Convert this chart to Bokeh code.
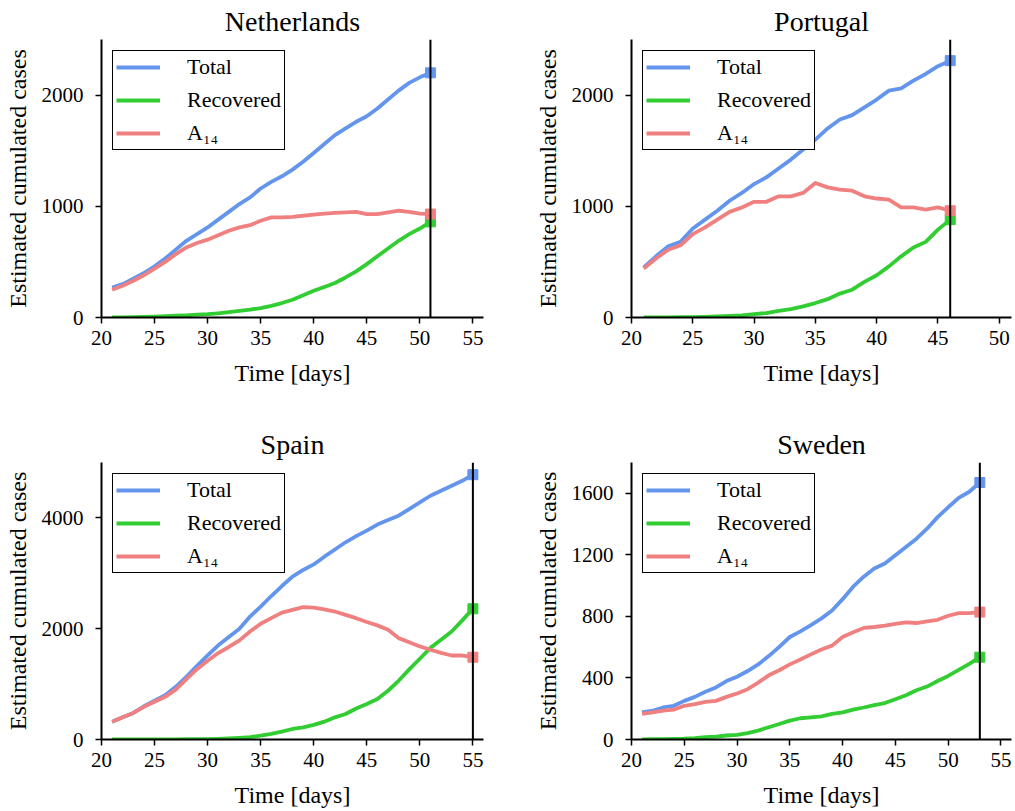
from bokeh.plotting import figure
from bokeh.models import Range1d, FixedTicker, Span, Legend, LegendItem
from bokeh.layouts import row, column
from bokeh.embed import file_html
from bokeh.resources import INLINE

FONT = "Liberation Serif"
C_TOTAL = "#6495ED"
C_REC = "#32CD32"
C_A14 = "#F08080"

# ---------------- data ----------------
nl_days = list(range(21, 52))
nl_total = [270, 300, 350, 400, 460, 530, 610, 690, 750, 810, 880, 950, 1020, 1080, 1160, 1220,
            1270, 1330, 1400, 1480, 1560, 1640, 1700, 1760, 1810, 1880, 1960, 2040, 2110, 2160, 2200]
nl_recovered = [0, 2, 4, 6, 8, 12, 16, 20, 25, 30, 38, 48, 60, 70, 85, 105, 130, 160, 200, 240,
                275, 310, 360, 415, 480, 550, 620, 690, 750, 800, 860]
nl_a14 = [250, 285, 330, 380, 440, 500, 570, 630, 670, 700, 740, 780, 810, 830, 870, 900, 900, 905,
          915, 925, 935, 940, 945, 950, 930, 930, 945, 960, 950, 935, 930]

pt_days = list(range(21, 47))
pt_total = [450, 550, 640, 680, 800, 880, 960, 1050, 1120, 1200, 1260, 1340, 1420, 1510, 1600, 1700,
            1780, 1820, 1890, 1960, 2040, 2060, 2130, 2190, 2260, 2310]
pt_recovered = [0, 1, 2, 3, 4, 6, 9, 14, 20, 30, 40, 60, 75, 100, 130, 165, 215, 250, 320, 380, 460,
                550, 630, 680, 790, 880]
pt_a14 = [440, 530, 610, 650, 750, 810, 880, 950, 990, 1040, 1040, 1090, 1090, 1120, 1210, 1170, 1150,
          1140, 1090, 1070, 1060, 990, 990, 970, 990, 960]

es_days = list(range(21, 56))
es_total = [320, 400, 480, 600, 700, 800, 950, 1130, 1330, 1520, 1700, 1850, 2000, 2220, 2400, 2590,
            2770, 2940, 3060, 3160, 3300, 3430, 3560, 3670, 3770, 3880, 3960, 4040, 4160, 4280, 4400,
            4490, 4580, 4670, 4780]
es_recovered = [0, 0, 0, 1, 2, 3, 4, 5, 6, 8, 12, 20, 30, 42, 72, 100, 143, 190, 220, 263, 322, 400,
                460, 560, 640, 730, 880, 1060, 1265, 1457, 1654, 1800, 1950, 2150, 2360]
es_a14 = [320, 400, 480, 590, 680, 770, 900, 1090, 1270, 1420, 1560, 1670, 1790, 1950, 2090, 2190,
          2290, 2340, 2390, 2380, 2350, 2310, 2250, 2190, 2120, 2060, 1980, 1830, 1755, 1680, 1620,
          1565, 1516, 1516, 1486]

se_days = list(range(21, 54))
se_total = [176, 187, 208, 219, 251, 277, 310, 338, 380, 408, 445, 488, 542, 602, 666, 703, 744, 787,
            838, 912, 993, 1058, 1111, 1144, 1198, 1251, 1305, 1370, 1445, 1509, 1570, 1610, 1670]
se_recovered = [0, 2, 3, 4, 5, 9, 15, 19, 26, 30, 41, 58, 80, 101, 123, 138, 144, 150, 166, 176, 194,
                208, 224, 237, 262, 288, 320, 344, 380, 413, 452, 492, 535]
se_a14 = [166, 176, 187, 194, 219, 230, 245, 251, 277, 299, 327, 370, 417, 450, 488, 520, 553, 585,
          610, 666, 697, 725, 731, 740, 752, 761, 757, 768, 778, 804, 821, 821, 828]

x_ticks_55 = [20, 25, 30, 35, 40, 45, 50, 55]
x_ticks_50 = [20, 25, 30, 35, 40, 45, 50]
y_ticks_2000 = [0, 1000, 2000]
y_ticks_4000 = [0, 2000, 4000]
y_ticks_1600 = [0, 400, 800, 1200, 1600]

series_labels = ["Total", "Recovered", "A\u2081\u2084"]
x_label = "Time [days]"
y_label = "Estimated cumulated cases"


def make_panel(title, days, total, recovered, a14, xr, yr, xticks, yticks,
               width, height, bl, br, bt, bb):
    p = figure(width=width, height=height, output_backend="svg", toolbar_location=None,
               x_range=Range1d(*xr), y_range=Range1d(*yr),
               min_border_left=bl, min_border_right=br, min_border_top=bt, min_border_bottom=bb)
    p.title.text = title
    p.title.text_font = FONT
    p.title.text_font_size = "28px"
    p.title.text_font_style = "normal"
    p.title.text_color = "black"
    p.title.align = "center"
    p.title.standoff = 5
    p.outline_line_color = None
    p.xgrid.visible = False
    p.ygrid.visible = False
    p.background_fill_color = "white"
    p.border_fill_color = "white"

    for ax in (p.xaxis[0], p.yaxis[0]):
        ax.axis_line_width = 2
        ax.axis_line_color = "black"
        ax.major_tick_line_color = "black"
        ax.major_tick_line_width = 1.5
        ax.major_tick_in = 0
        ax.major_tick_out = 6
        ax.minor_tick_line_color = None
        ax.major_label_text_font = FONT
        ax.major_label_text_font_size = "21px"
        ax.major_label_text_color = "black"
        ax.axis_label_text_font = FONT
        ax.axis_label_text_font_size = "24px"
        ax.axis_label_text_font_style = "normal"
        ax.axis_label_text_color = "black"
    p.xaxis.ticker = FixedTicker(ticks=xticks)
    p.yaxis.ticker = FixedTicker(ticks=yticks)
    p.xaxis.axis_label = x_label
    p.yaxis.axis_label = y_label
    p.xaxis.major_label_standoff = 7
    p.yaxis.major_label_standoff = 12
    p.xaxis.axis_label_standoff = 12
    p.yaxis.axis_label_standoff = 8

    lw = 3.8
    r_t = p.line(days, total, line_color=C_TOTAL, line_width=lw, line_join="round")
    r_r = p.line(days, recovered, line_color=C_REC, line_width=lw, line_join="round")
    r_a = p.line(days, a14, line_color=C_A14, line_width=lw, line_join="round")
    p.scatter([days[-1]], [total[-1]], marker="square", size=10, color=C_TOTAL)
    p.scatter([days[-1]], [recovered[-1]], marker="square", size=10, color=C_REC)
    p.scatter([days[-1]], [a14[-1]], marker="square", size=10, color=C_A14)

    p.add_layout(Span(location=days[-1], dimension="height", line_color="black", line_width=2))

    legend = Legend(items=[LegendItem(label=series_labels[0], renderers=[r_t]),
                           LegendItem(label=series_labels[1], renderers=[r_r]),
                           LegendItem(label=series_labels[2], renderers=[r_a])],
                    location="top_left")
    legend.border_line_color = "black"
    legend.border_line_width = 1.5
    legend.border_line_alpha = 1
    legend.background_fill_color = "white"
    legend.background_fill_alpha = 1
    legend.label_text_font = FONT
    legend.label_text_font_size = "22px"
    legend.label_text_color = "black"
    legend.glyph_width = 44
    legend.glyph_height = 20
    legend.label_height = 20
    legend.label_standoff = 27
    legend.padding = 3
    legend.spacing = 7
    legend.margin = 11
    p.add_layout(legend)
    return p


p1 = make_panel("Netherlands", nl_days, nl_total, nl_recovered, nl_a14, (20, 56), (0, 2500),
                x_ticks_55, y_ticks_2000, 508, 400, 101, 25, 39, 83)
p2 = make_panel("Portugal", pt_days, pt_total, pt_recovered, pt_a14, (20, 51), (0, 2500),
                x_ticks_50, y_ticks_2000, 507, 400, 123, 4, 39, 83)
p3 = make_panel("Spain", es_days, es_total, es_recovered, es_a14, (20, 56), (0, 5000),
                x_ticks_55, y_ticks_4000, 508, 410, 101, 25, 62, 69)
p4 = make_panel("Sweden", se_days, se_total, se_recovered, se_a14, (20, 56), (0, 1800),
                x_ticks_55, y_ticks_1600, 507, 410, 123, 4, 62, 69)

layout = column(row(p1, p2), row(p3, p4))
open("out.html", "w").write(file_html(layout, INLINE))
